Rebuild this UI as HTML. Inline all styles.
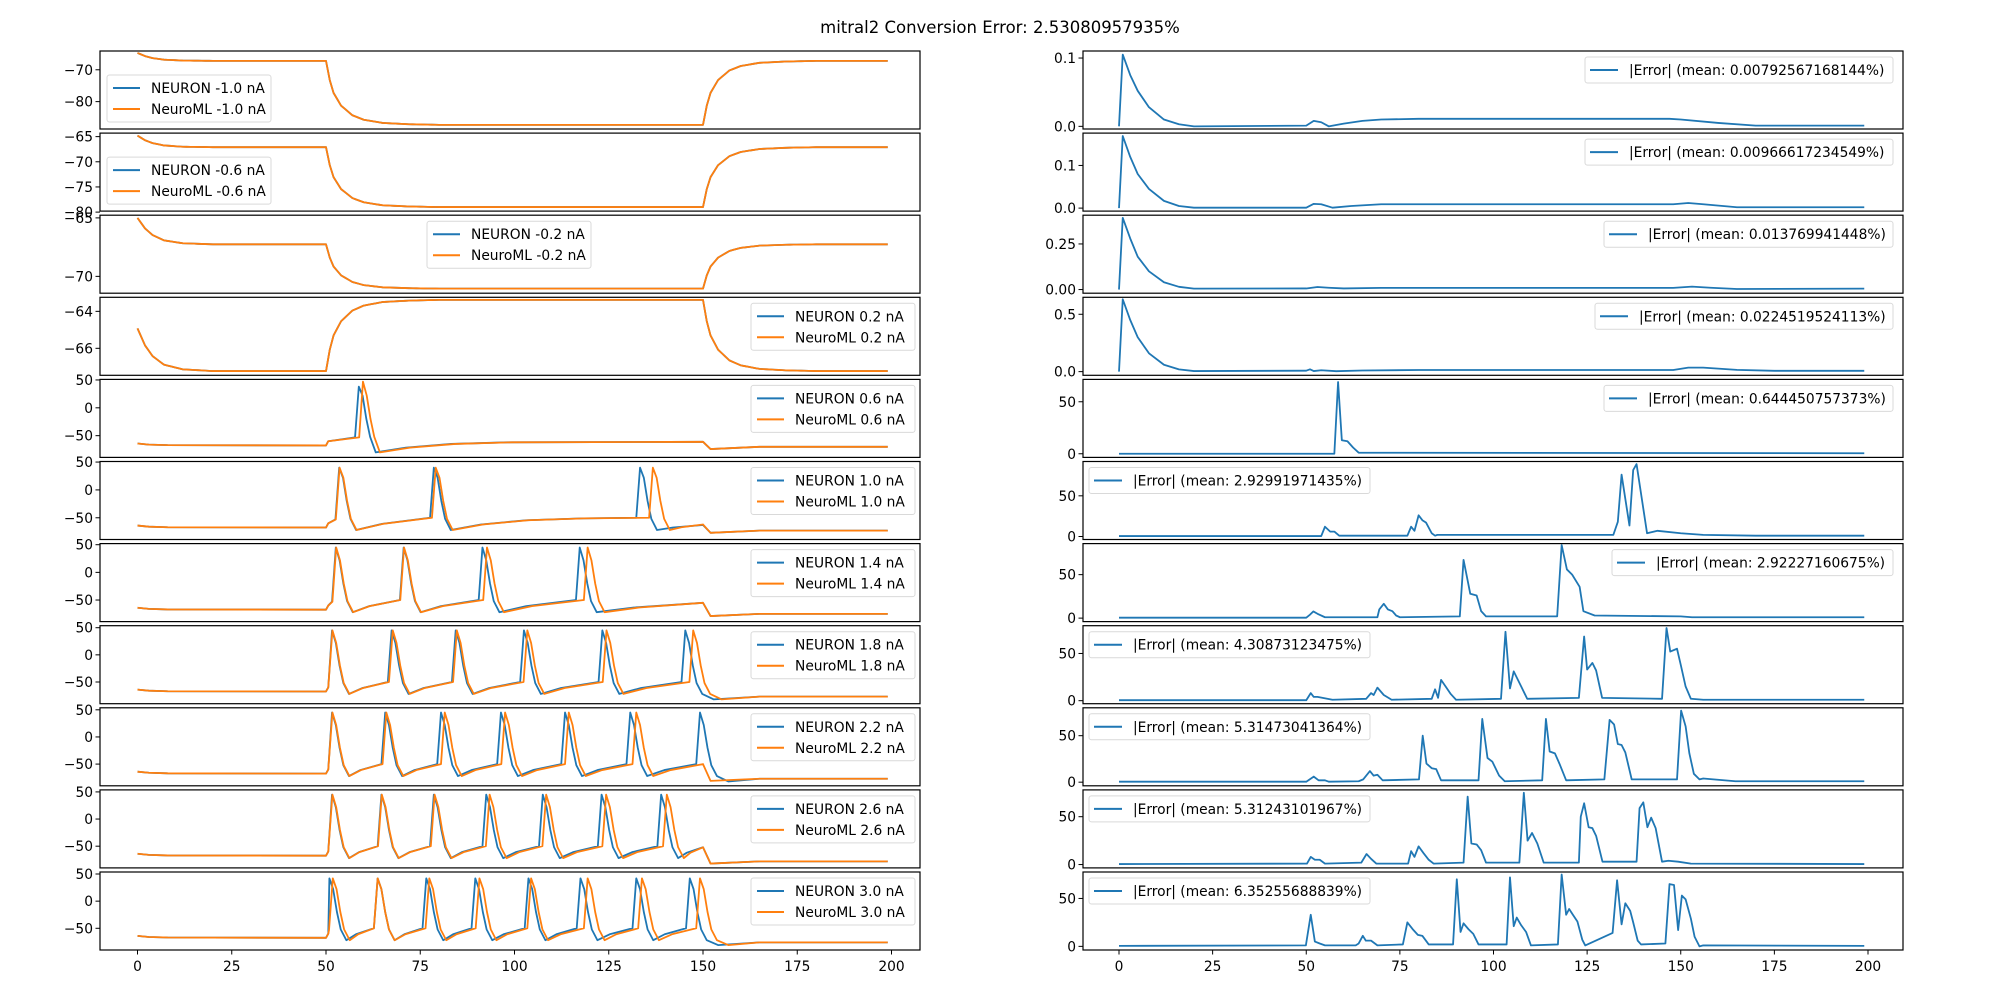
<!DOCTYPE html>
<html><head><meta charset="utf-8"><style>
html,body{margin:0;padding:0;background:#fff;}
svg text{font-family:"DejaVu Sans","Liberation Sans",sans-serif;}
</style></head><body>
<svg id="fig" xmlns="http://www.w3.org/2000/svg" width="2000" height="1000" viewBox="0 0 2000 1000">
<rect width="2000" height="1000" fill="#fff"/>
<text x="1000" y="33" font-size="16.5" text-anchor="middle">mitral2 Conversion Error: 2.53080957935%</text>
</svg>
<script>
// ---- data ----
const currents = ["-1.0","-0.6","-0.2","0.2","0.6","1.0","1.4","1.8","2.2","2.6","3.0"];
const errorMeans = ["0.00792567168144","0.00966617234549","0.013769941448","0.0224519524113","0.644450757373","2.92991971435","2.92227160675","4.30873123475","5.31473041364","5.31243101967","6.35255688839"];
const xTicks = [0,25,50,75,100,125,150,175,200];
const subStart = [-64.7,-64.8,-65.0,-64.92];
const subRest = [-67.2,-67.1,-67.26,-67.23];
const subStep = [-87.3,-79.0,-71.05,-63.38];
const stepProfT = [0,1,2,4,7,10,15,22,30,100];
const stepProfF = [0,0.3,0.5,0.7,0.85,0.92,0.97,0.99,1,1];
const decayProfT = [0,2,4,7,12,20];
const decayProfF = [1,0.6,0.35,0.15,0.04,0];
const spikesN = [null,null,null,null,[58.7],[53.5,78.6,133.3],[52.6,70.6,91.5,117.3],[51.6,67.4,84.4,102.5,123.3,145.3],[51.6,65.7,80.5,96.4,113.4,130.7,149.2],[51.6,64.7,78.6,92.5,107.5,123.1,138.9],[50.9,63.7,76.6,89.6,103.7,117.5,132.3,146.5]];
const spikesM = [null,null,null,null,[59.8],[53.6,79.1,136.7],[52.7,70.7,92.7,119.4],[51.7,67.7,84.7,103.4,124.4,147.4],[51.7,66.0,81.5,97.5,114.4,132.3],[51.7,64.8,78.8,93.4,108.4,124.3,140.4],[51.8,63.7,77.4,90.7,104.4,119.4,133.8,149.2]];
const plateauN = [0,0,0,0,-61,-63,-55,-55,-52,-52,-52];
const plateauM = [0,0,0,0,-61,-62,-55,-55,-50,-52,-52];
const endV = [0,0,0,0,-70,-73,-75,-77,-77,-78,-76];
const peakN = [0,0,0,0,38,40,45,45,45,45,42];
const peakM = [0,0,0,0,47,40,45,45,45,45,42];
const leftYLo = [-88.6,-79.8,-71.44,-67.46,-89,-89,-89,-90,-90,-90,-90];
const leftYHi = [-64.1,-64.3,-64.77,-63.24,51,51,52,53.7,53.7,53.7,53.7];
const leftYTicks = [[-70,-80],[-65,-70,-75,-80],[-65,-70],[-64,-66],[50,0,-50],[50,0,-50],[50,0,-50],[50,0,-50],[50,0,-50],[50,0,-50],[50,0,-50]];
const rightYLo = [-0.0039,-0.007,-0.02,-0.032,-3.5,-3.7,-4,-3.2,-3.9,-3.5,-3.8];
const rightYHi = [0.1103,0.1758,0.4076,0.648,71.5,92.2,85.7,79.4,80,78,77.6];
const rightYTicks = [[0.1,0.0],[0.1,0.0],[0.25,0.0],[0.5,0.0],[50,0],[50,0],[50,0],[50,0],[50,0],[50,0],[50,0]];
const rightTickLbl = [["0.1","0.0"],["0.1","0.0"],["0.25","0.00"],["0.5","0.0"]];
const err1 = [[0,0],[1,0.105],[3,0.075],[5,0.052],[8,0.028],[12,0.01],[16,0.003],[20,0],[50,0.001],[52,0.008],[54,0.006],[56,0],[60,0.004],[65,0.008],[70,0.010],[80,0.011],[147,0.011],[150,0.010],[160,0.005],[170,0.001],[199,0.001]];
const err2 = [[0,0],[1,0.169],[3,0.12],[5,0.08],[8,0.045],[12,0.017],[16,0.005],[20,0.001],[50,0.001],[52,0.01],[54,0.009],[57,0.001],[62,0.005],[70,0.009],[148,0.009],[152,0.012],[156,0.009],[165,0.002],[199,0.002]];
const err3 = [[0,0],[1,0.393],[3,0.28],[5,0.18],[8,0.1],[12,0.04],[16,0.015],[20,0.005],[50,0.006],[53,0.014],[56,0.01],[60,0.006],[70,0.009],[148,0.009],[153,0.016],[158,0.01],[165,0.003],[199,0.005]];
const err4 = [[0,0],[1,0.631],[3,0.45],[5,0.3],[8,0.16],[12,0.06],[16,0.02],[20,0.005],[50,0.008],[51,0.02],[52,0.005],[54,0.012],[58,0.004],[65,0.01],[80,0.014],[148,0.014],[152,0.035],[156,0.035],[165,0.015],[175,0.007],[199,0.007]];
const err5 = [[0,0],[57.5,0],[58.5,69],[59.5,13],[61,12],[62.5,6],[64,1],[70,1],[199,0.5]];
const err6 = [[0,0.5],[54,0.5],[55,12],[56.4,6],[57.5,6],[58.8,1],[77,1],[78,12],[78.9,7],[80,26],[81,20],[82,17],[83.5,4],[84.4,1],[85,2],[132,2],[133.2,18],[134.2,76],[136.3,13.5],[137.3,81.6],[138.2,89],[141,4],[143.8,7],[150,4],[156,2],[170,1],[199,1]];
const err7 = [[0,0.5],[50,0.5],[51,4],[51.9,7.7],[53,5],[55,1],[69,1],[69.5,10],[70.7,16.5],[71.8,10],[73,8],[74,3],[75,1],[91,2],[92,67],[93.8,28],[95.5,26],[96.7,8],[98,2],[117,2],[118.2,84],[119.6,56],[121,50],[123,36],[124,8],[127,3],[150,2],[153,1],[199,1]];
const err8 = [[0,0.5],[50,0.5],[51.2,8],[52,4],[53,4],[57,1],[66,2],[67.3,8],[68,6],[69,13.8],[70.7,6],[72.8,1],[83.5,2],[84.4,12],[85.2,3],[86,22],[87.4,14],[88.6,7],[90,1],[102,2],[103.2,73],[104.4,13],[105.4,31],[107.4,15],[109,2],[122.8,3],[124.2,68],[125,33],[126.4,40],[127.4,32],[129,3],[145,2],[146.2,77],[147.2,52],[149,55],[150,38],[151.3,15],[152.7,2],[156,1],[199,1]];
const err9 = [[0,0.5],[50,0.5],[52,6],[53.3,2],[55,2],[56,0.5],[64,1],[65.2,3],[67,12],[68,7],[69,8],[70.4,2],[80.1,3],[81.1,50],[82.1,20],[83.5,15],[84.7,14],[86,2],[96,2],[97,68],[98.4,26],[99.7,22],[101.5,7],[103,1],[113,2],[114,68],[115,33],[116.4,31],[117.6,20],[119.4,2],[129.6,3],[131,67],[132.2,62],[133.2,41],[134.2,40],[135.2,32],[136.9,3],[149,3],[150.1,77],[151.3,60],[152.3,31],[153.5,9],[155,3],[156,4],[164.6,1],[199,1]];
const err10 = [[0,0.5],[50.2,1],[51.2,8],[52.3,5],[53.6,5],[55,1],[64.7,2],[66.1,11],[67.3,6],[68.7,1],[77.2,1],[78,14],[78.9,8],[80,19],[81.3,12],[82.7,5],[84,1],[92,2],[93.1,71],[94.1,22],[95.5,21],[96.7,15],[98,2],[106.9,2],[108.1,75],[109.1,25],[110.3,33],[111.7,22],[113.4,2],[122.8,2],[123.3,50],[124.2,64],[125.4,39],[126.4,38],[127.4,30],[129.1,3],[138.2,3],[139,59],[140,65],[141.1,39],[142.1,49],[143.3,38],[145,3],[146.7,4],[149.3,3],[152.7,1],[199,0.5]];
const err11 = [[0,0.5],[49.9,1],[51.2,33],[52.3,5],[53.6,3],[55,1],[63.2,1],[64,3],[65.1,11],[65.9,6],[67.3,6],[69,1],[75.8,2],[77,25],[78.4,18],[79.8,12],[81,11],[82.7,2],[89.2,2],[90.2,70],[91.2,15],[92,24],[93.3,18],[94.6,13],[96,2],[103.5,2],[104.4,72],[105.4,21],[106.2,30],[107.4,22],[108.7,15],[110,1],[117.2,2],[118.2,75],[119.4,33],[120.2,39],[121.2,33],[122.4,26],[123.7,7],[124.5,1],[131.8,14],[133,69],[134.2,23],[135.2,45],[136.5,37],[137.3,25],[138.5,6],[139.4,2],[145.9,3],[147,65],[148.2,64],[149.3,17],[150.3,53],[151.3,49],[152.7,29],[153.7,10],[155,0],[156,1],[199,0.5]];
const errSeries = [err1,err2,err3,err4,err5,err6,err7,err8,err9,err10,err11];

// ---- layout ----
const NS = "http://www.w3.org/2000/svg";
const svg = document.getElementById('fig');
const AX_TOP0 = 51, AX_PITCH = 82.1, AX_H = 78;
const LX0 = 100, LX1 = 920, RX0 = 1083, RX1 = 1903;
const lx = t => 137.5 + t * 3.77;
const rx = t => 1119 + t * 3.745;
const BLUE = "#1f77b4", ORANGE = "#ff7f0e";
const FS = 13.8;
const leftLegendPos = [[107,24],[107,24],[427,6],[751,6],[751,6],[751,6],[751,6],[751,6],[751,6],[751,6],[751,6]];
const rightLegendPos = [[1585,308],[1585,308],[1604,289],[1595,298],[1604,289],[1089,281],[1612,281],[1089,281],[1089,281],[1089,281],[1089,281]];
const recT = [8,20,35];
const recF = [0.45,0.8,0.95];
function mk(tag, attrs, parent) {
  const e = document.createElementNS(NS, tag);
  for (const k in attrs) e.setAttribute(k, attrs[k]);
  (parent || svg).appendChild(e);
  return e;
}
function fmt(v) { return (v < 0 ? "\u2212" : "") + Math.abs(v); }
function interpProfile(T, F, t) {
  if (t <= T[0]) return F[0];
  for (let i = 1; i < T.length; i++) if (t <= T[i]) return F[i-1] + (F[i]-F[i-1]) * (t-T[i-1])/(T[i]-T[i-1]);
  return F[F.length-1];
}
function subTrace(i) {
  const pts = [];
  for (let t = 0; t <= 199; t += 1) {
    let v;
    if (t <= 50) v = subRest[i] + (subStart[i]-subRest[i]) * interpProfile(decayProfT, decayProfF, t);
    else if (t <= 150) v = subRest[i] + (subStep[i]-subRest[i]) * interpProfile(stepProfT, stepProfF, t-50);
    else v = subStep[i] + (subRest[i]-subStep[i]) * interpProfile(stepProfT, stepProfF, t-150);
    pts.push([t, v]);
  }
  return pts;
}
function ramp(pts, a, b, from, to) {
  // recovery from AHP (at time a) towards level 'to' at time b
  const gap = b - a;
  if (gap > 30) {
    recT.forEach((dt, k) => { if (a + dt < b - 2) pts.push([a + dt, from + (to - from) * recF[k]]); });
  } else {
    pts.push([a + gap * 0.35, from + (to - from) * 0.5]);
  }
  pts.push([b, to]);
}
function spikeTrace(spikes, peak, plateau, end, ahp) {
  const thr = -50;
  const pts = [[0,-64],[3,-66],[8,-67],[50,-67.5],[50.6,-60]];
  let prev = null;
  spikes.forEach((s, i) => {
    if (i === 0) { if (s - 1 > 50.7) pts.push([s-1, -53]); }
    else ramp(pts, prev + 4.5, s - 1, ahp, thr);
    pts.push([s, peak]); pts.push([s+1, 22]); pts.push([s+2, -20]); pts.push([s+3, -52]); pts.push([s+4.5, ahp]);
    prev = s;
  });
  const last = prev + 4.5;
  if (150 - last > 4) {
    ramp(pts, last, 150, ahp, plateau);
    pts.push([152, end-4]);
  } else { pts.push([last+3, end-5]); }
  pts.push([165, end]); pts.push([199, end]);
  return pts;
}
function drawAxes(x0, x1, top, name) {
  const r = mk('rect', {x:x0, y:top, width:x1-x0, height:AX_H, fill:'none', stroke:'#000', 'stroke-width':1.2});
  
  
}
function drawLine(pts, xf, yf, color, name, clipId) {
  const d = pts.map((p, k) => (k ? 'L' : 'M') + xf(p[0]).toFixed(2) + ',' + yf(p[1]).toFixed(2)).join('');
  const p = mk('path', {d:d, fill:'none', stroke:color, 'stroke-width':1.8, 'stroke-linejoin':'round', 'clip-path':'url(#'+clipId+')'});
  
  
}
const defs = mk('defs', {});
for (let i = 0; i < 11; i++) {
  const top = AX_TOP0 + i * AX_PITCH;
  const c1 = mk('clipPath', {id:'cl'+i}, defs); mk('rect', {x:LX0, y:top, width:LX1-LX0, height:AX_H}, c1);
  const c2 = mk('clipPath', {id:'cr'+i}, defs); mk('rect', {x:RX0, y:top, width:RX1-RX0, height:AX_H}, c2);
  const lo = leftYLo[i], hi = leftYHi[i];
  const ly = v => top + AX_H * (hi - v) / (hi - lo);
  let nPts, mPts;
  if (i < 4) { nPts = subTrace(i); mPts = nPts; }
  else {
    const ahp = i === 4 ? -80 : -72;
    nPts = spikeTrace(spikesN[i], peakN[i], plateauN[i], endV[i], ahp);
    mPts = spikeTrace(spikesM[i], peakM[i], plateauM[i], endV[i], ahp);
  }
  drawLine(nPts, lx, ly, BLUE, 'neuron-trace-' + currents[i], 'cl'+i);
  drawLine(mPts, lx, ly, ORANGE, 'neuroml-trace-' + currents[i], 'cl'+i);
  drawAxes(LX0, LX1, top, 'voltage-axes-' + currents[i]);
  leftYTicks[i].forEach(v => {
    const y = ly(v);
    const tk = mk('line', {x1:LX0-4.5, x2:LX0, y1:y, y2:y, stroke:'#000', 'stroke-width':1});
    
    
    const tx = mk('text', {x:LX0-7, y:y+5, 'font-size':FS, 'text-anchor':'end'});
    tx.textContent = fmt(v);
    
    
  });
  const lg = mk('g', {});
  
  
  const lxp = leftLegendPos[i][0], lyp = top + leftLegendPos[i][1];
  mk('rect', {x:lxp, y:lyp, width:164, height:47, rx:2.5, fill:'#fff', 'fill-opacity':0.8, stroke:'#d9d9d9', 'stroke-width':1}, lg);
  [[BLUE,'NEURON '],[ORANGE,'NeuroML ']].forEach((e, k) => {
    const yy = lyp + 13 + k * 21;
    mk('line', {x1:lxp+6, x2:lxp+33, y1:yy, y2:yy, stroke:e[0], 'stroke-width':2}, lg);
    const t = mk('text', {x:lxp+44, y:yy+5, 'font-size':FS}, lg);
    t.textContent = e[1] + currents[i] + ' nA';
    
    
  });
  const rlo = rightYLo[i], rhi = rightYHi[i];
  const ry = v => top + AX_H * (rhi - v) / (rhi - rlo);
  drawLine(errSeries[i], rx, ry, BLUE, 'error-trace-' + currents[i], 'cr'+i);
  drawAxes(RX0, RX1, top, 'error-axes-' + currents[i]);
  rightYTicks[i].forEach((v, k) => {
    const y = ry(v);
    const tk = mk('line', {x1:RX0-4.5, x2:RX0, y1:y, y2:y, stroke:'#000', 'stroke-width':1});
    
    
    const tx = mk('text', {x:RX0-7, y:y+5, 'font-size':FS, 'text-anchor':'end'});
    tx.textContent = i < 4 ? rightTickLbl[i][k] : fmt(v);
    
    
  });
  const rg = mk('g', {});
  
  
  const rxp = rightLegendPos[i][0], rw = rightLegendPos[i][1], ryp = top + 6;
  mk('rect', {x:rxp, y:ryp, width:rw, height:26, rx:2.5, fill:'#fff', 'fill-opacity':0.8, stroke:'#d9d9d9', 'stroke-width':1}, rg);
  mk('line', {x1:rxp+5, x2:rxp+33, y1:ryp+13, y2:ryp+13, stroke:BLUE, 'stroke-width':2}, rg);
  const rt = mk('text', {x:rxp+44, y:ryp+18, 'font-size':FS}, rg);
  rt.textContent = '|Error| (mean: ' + errorMeans[i] + '%)';
  
  
}
const bottom = AX_TOP0 + 10 * AX_PITCH + AX_H;
xTicks.forEach(v => {
  [[lx, 'left'], [rx, 'right']].forEach(([f, side]) => {
    const x = f(v);
    const tk = mk('line', {x1:x, x2:x, y1:bottom, y2:bottom+4.5, stroke:'#000', 'stroke-width':1});
    
    
    const tx = mk('text', {x:x, y:bottom+21, 'font-size':FS, 'text-anchor':'middle'});
    tx.textContent = v;
    
    
  });
});
</script>
</body></html>
